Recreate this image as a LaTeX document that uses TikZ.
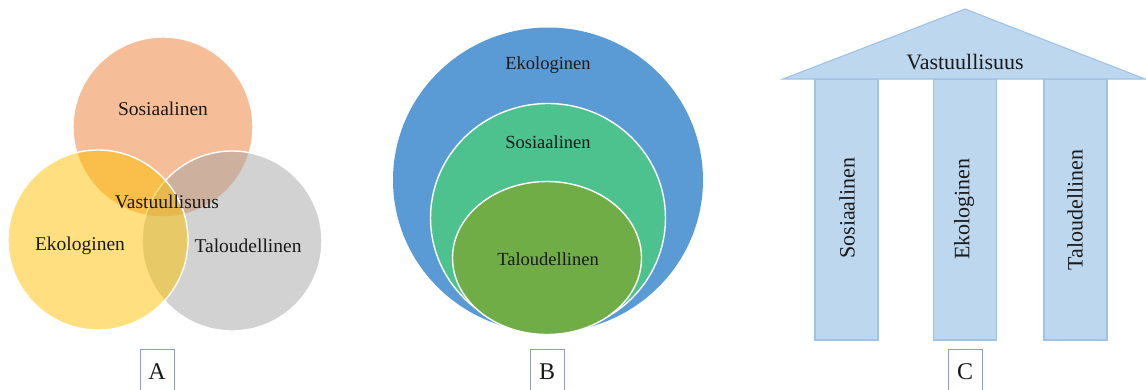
\documentclass[tikz,border=0pt]{standalone}
\usepackage{fontspec}
\setmainfont{Liberation Serif}
\usetikzlibrary{shapes.geometric}
\definecolor{soscol}{HTML}{ED7D31}
\definecolor{ekocol}{HTML}{FFC000}
\definecolor{talcol}{HTML}{A5A5A5}
\definecolor{outerblue}{HTML}{5B9BD5}
\definecolor{midgreen}{HTML}{4DC28F}
\definecolor{innergreen}{HTML}{70AD47}
\definecolor{pillarfill}{HTML}{BDD7EE}
\definecolor{pillarline}{HTML}{9DC3E6}
\definecolor{tagline}{HTML}{8C9CCF}
\definecolor{inktext}{HTML}{1A1A1A}
\tikzset{
  venn/.style={circle, inner sep=0pt, outer sep=0pt, minimum size=180pt,
    fill opacity=0.5, draw=white, draw opacity=1, line width=1.4pt},
  ring/.style={ellipse, inner sep=0pt, outer sep=0pt, draw=white, line width=1.4pt},
  pillar/.style={rectangle, inner sep=0pt, outer sep=0pt, fill=pillarfill,
    draw=pillarline, line width=1.1pt, minimum width=63pt, minimum height=261pt},
  lbl/.style={text=inktext, inner sep=0pt, font=\fontsize{19.5}{22}\selectfont},
  lblB/.style={lbl, font=\fontsize{18.5}{21}\selectfont},
  lblC/.style={lbl, font=\fontsize{22}{25}\selectfont},
  tag/.style={rectangle, draw=tagline, fill=white, line width=0.9pt,
    minimum width=34pt, minimum height=44pt, inner sep=0pt,
    text=inktext, font=\fontsize{24}{26}\selectfont}
}
\begin{document}
\begin{tikzpicture}[x=1pt, y=-1pt]
\useasboundingbox (0,0) rectangle (1146,389);
\clip (0,0) rectangle (1146,389);

% ---- A: three overlapping circles ----
\node[venn, fill=soscol] (sos) at (163,127) {};
\node[venn, fill=talcol] (tal) at (232,241) {};
\node[venn, fill=ekocol] (eko) at (98,240) {};
\node[lbl] (sosT) at (163,109) {Sosiaalinen};
\node[lbl] (vasT) at (167,202) {Vastuullisuus};
\node[lbl] (ekoT) at (80,246) {Ekologinen};
\node[lbl] (talT) at (248,246) {Taloudellinen};
\node[tag, anchor=north] (tagA) at (157,349) {\raisebox{-4pt}{A}};

% ---- B: nested circles ----
\node[ellipse, inner sep=0pt, fill=outerblue, minimum width=310pt, minimum height=305pt] (outer) at (548,180) {};
\node[ring, fill=midgreen, minimum width=235pt, minimum height=229pt] (mid) at (548,218) {};
\node[ring, fill=innergreen, minimum width=189pt, minimum height=153pt] (inner) at (547,258) {};
\node[lblB] (ekoB) at (548,65) {Ekologinen};
\node[lblB] (sosB) at (548,142) {Sosiaalinen};
\node[lblB] (talB) at (548,259) {Taloudellinen};
\node[tag, anchor=north] (tagB) at (547,349) {\raisebox{-4pt}{B}};

% ---- C: temple with roof and three pillars ----
\coordinate (roofL) at (783,79);
\coordinate (roofR) at (1145,79);
\coordinate (roofTop) at (965,9);
\node[pillar] (p1) at (846.5,209.5) {};
\node[pillar] (p2) at (965,209.5) {};
\node[pillar] (p3) at (1075.5,209.5) {};
\filldraw[fill=pillarfill, draw=pillarline, line width=1.1pt, line join=miter]
  (roofL) -- (roofTop) -- (roofR) -- cycle;
\node[lblC] (roofT) at (965,62) {Vastuullisuus};
\node[lblC, rotate=90] (p1T) at (847,208) {Sosiaalinen};
\node[lblC, rotate=90] (p2T) at (964,209) {Ekologinen};
\node[lblC, rotate=90] (p3T) at (1075,210) {Taloudellinen};
\node[tag, anchor=north] (tagC) at (965,349) {\raisebox{-4pt}{C}};
\end{tikzpicture}
\end{document}
